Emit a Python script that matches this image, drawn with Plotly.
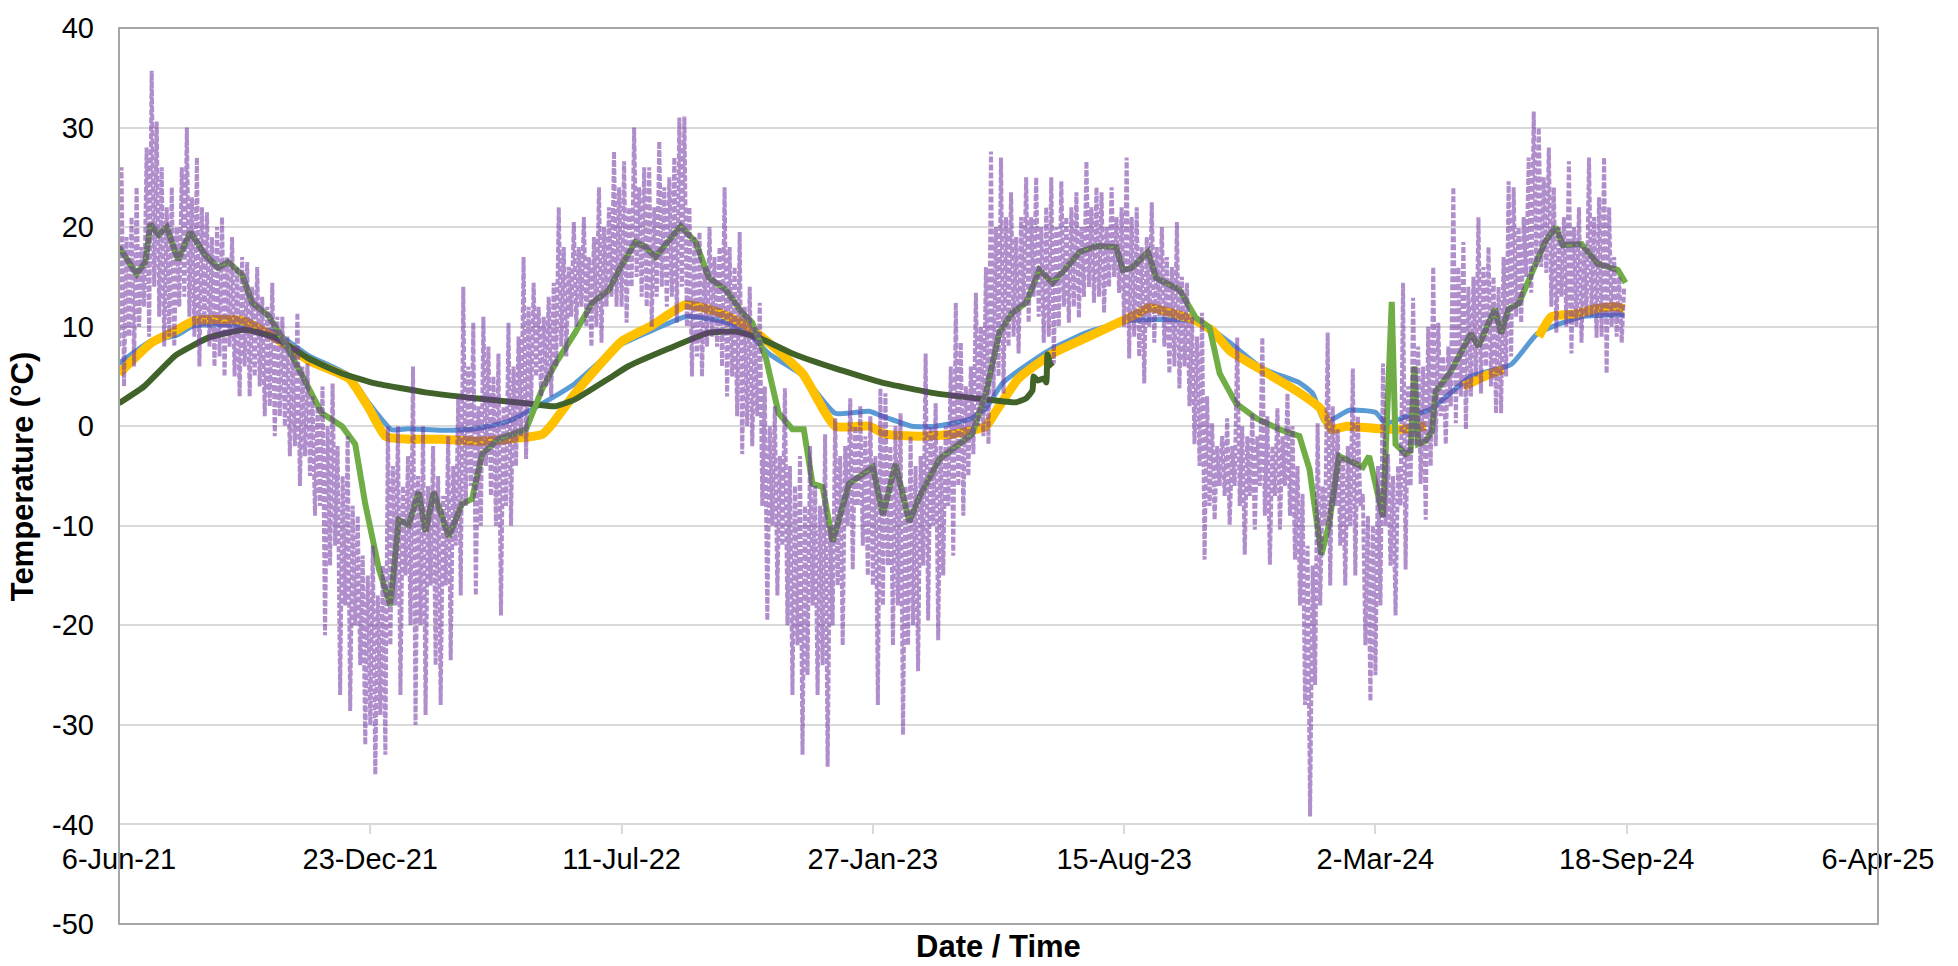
import datetime as dt
import plotly.graph_objects as go

START = dt.datetime(2021, 6, 6)

# ---------------- data ----------------
# hourly-style air temperature, one value every 2 days (alternating highs / lows)
air_step_days = 2
air_temp = [
    8, 26, 4, 19, 9, 21, 6, 24, 10, 18, 12, 28, 9, 35.7, 14, 30.6, 11, 26, 8, 22,
    9, 24, 8, 20, 12, 26, 13, 30, 11, 23, 9, 27, 6, 22, 10, 21.5, 8, 19, 6, 20,
    7, 21, 5, 17, 8, 19, 5, 16, 3, 17,
    6, 16.5, 3, 14, 5, 16, 4, 13, 1, 12, 2, 14.4, -1, 11, 1, 11, 0, 9, -3, 8,
    -2, 11.4, -6, 6, -3, 6.3, -5, 3, -9, 2, -8, 4, -21, 0, -14, 4.3, -12, -2, -27, -5,
    -18, -1, -28.6, -8, -20, -9, -24, -13, -32, -15,
    -30, -12, -35, -17, -29, -14, -33, 0, -22, -4, -18, 0, -27, -6, -15, -3, -20, 6, -30, -5,
    -20, 0, -29, -6, -16, -2, -24, -5, -28, -7, -16, -1, -23.5, -4, -12, 3, -17, 14, -8, 6,
    -6, 10.4, -17, 2, -10, 11, -4, 8, -7, 5,
    -10, 7.3, -19, 2, -8, 10.4, -10, 6, -4, 9, -1, 17, -3.3, 12, 2, 14.4, 5, 12, 3, 11,
    4, 13, 3, 14.4, 6, 22, 8, 18, 7, 16, 11, 20.5, 10, 18, 12, 21, 10, 17, 8, 19,
    10, 24, 8.4, 20, 12, 22, 13, 27.6, 12, 24,
    12, 26.6, 10.4, 22, 14, 30, 15, 24, 13, 26, 12, 26, 10, 22, 13, 28.6, 14, 24, 12, 25,
    13, 27, 10.4, 31, 14, 31.1, 10, 22, 5, 19, 7, 19.5, 5, 16, 8, 20, 9, 17, 8, 18,
    6, 24, 3, 18, 5, 16, 1, 19.5, -2.8, 12,
    0, 14, -2, 10, 1, 12.4, -8, 4, -19.5, 0, -10, 2, -17, -3, -12, 3.8, -20, -4, -27, -6,
    -22, -3, -33, -8, -25, -2, -18, -6, -27, -8, -24, -0.8, -34.2, -10, -20, 0.8, -16, -3, -22, -2,
    -10, 2.8, -14.4, 0, -8, 2, -12, -1, -15, 1,
    -16, -3, -28, 3.8, -18, 3.3, -14, -2, -22, 0, -18, 1.3, -31, -6, -22, -1, -20, -4, -24.6, -3,
    -14, 7.3, -19.5, 0, -10, 2.3, -21.5, -2, -15, 0, -8, 6, -13, 12.4, -6, 8.4, -9, 4, -5, 6,
    -2.8, 13.4, 0, 10, -1, 16, -1.8, 27.6, 3, 20,
    5, 27, 3.3, 21, 8, 23.5, 9, 19, 7.3, 21, 12, 25, 10.4, 21, 13, 25, 11, 20, 8.4, 22,
    9, 25, 6.3, 20, 10, 24.6, 12, 21, 10.4, 22, 12, 23.5, 10.9, 20, 13, 26.6, 14, 22, 12.4, 24,
    13, 23.5, 11.4, 20, 14, 24, 15, 21, 13.4, 22,
    10, 27, 6.8, 21, 9, 22, 7, 18, 4.3, 19, 10, 22.5, 8.4, 18, 11, 20, 8, 17, 5.3, 16,
    6, 20.5, 3.8, 15, 6, 14.4, 2, 11, -1.8, 9, -4, 11.4, -13.4, 3, -8, 0.3, -9.4, -2, -6, -1,
    -7, 0.8, -9.9, -2, -6, 8.9, -8, 0, -12.9, -1,
    -7, 1.3, -10.4, -1, -6, 8.9, -9, 1, -13.9, -2, -7, 1.8, -10.4, -1, -6, 3.3, -9, 0, -13.4, -4,
    -18, -6.8, -28, -12, -39.2, -14, -26, 0.3, -18, -6, -10, 9.4, -16, 2, -8, -0.3, -12, -3, -16, -2,
    -10, 5.8, -15, 1, -8, -6.8, -22, -9, -27.6, -10,
    -25, -4, -18, 6.3, -10, -2.8, -14, -5, -19, -4, -8, 14.4, -14.4, 4, -6, 12.9, -2, 8, -5.8, 6,
    -9.4, 10, -4, 16, -2, 10.4, 1, 7, -1.8, 8, 2, 24, 0.3, 16, 3, 18.5, -0.3, 14, 3, 15,
    5, 21, 3.3, 16, 6, 18, 4, 15, 1.3, 14,
    1.3, 17, 5, 24.6, 7, 24, 11, 20, 10.4, 21, 15, 27, 13.4, 31.6, 16, 30, 16, 25, 15.4, 28,
    12, 24, 9.4, 20, 13, 21, 10, 26.6, 7.3, 20, 10, 22, 8.4, 18, 11, 27, 11, 21, 8.9, 23,
    9, 27, 5.3, 22, 10, 17, 9, 15, 8.4, 14,
]

# smoothed air temperature (days since 6-Jun-21)
green_days = [0, 7.6, 14, 21, 25, 31.5, 38, 47, 56.7, 68.6,
              79, 87, 98, 106, 119, 132, 148, 161.5, 177.5, 188,
              196, 207, 216, 222.6, 230.6, 238.5, 244, 250.5, 262.5, 273,
              281, 289, 302, 324, 337, 347.5, 363, 376.6, 390, 398,
              411, 419, 427, 447, 459, 469.5, 483, 496, 504, 515,
              525, 536, 545, 552, 560, 568, 581, 600, 608, 618,
              629, 637, 653, 663.5, 679, 690, 700.6, 711, 722, 732.5,
              743, 754, 764.6, 778, 793.6, 799, 806, 819, 825.5, 844,
              857, 868, 876, 889, 905, 923.6, 939.5, 947.5, 957, 963,
              971, 990, 995, 1006, 1013, 1016, 1024, 1028, 1031, 1034,
              1040, 1045, 1048, 1060, 1076, 1082, 1095, 1100, 1106, 1114,
              1124, 1135, 1143.7, 1149, 1164, 1177, 1193, 1199]
green_vals = [18.0, 16.5, 15.3, 16.5, 20.3, 19.2, 20.0, 16.7, 19.5, 17.2,
              15.9, 16.5, 15.2, 12.4, 11.1, 8.4, 4.6, 1.3, 0, -1.8,
              -7.8, -14.4, -18.0, -9.4, -9.9, -6.6, -10.6, -6.6, -11.1, -7.8,
              -7.3, -2.8, -1.3, -0.3, 3.8, 6.3, 9.4, 12.4, 13.7, 15.7,
              18.5, 18.0, 17.0, 20.1, 18.5, 14.9, 13.7, 11.4, 10.4, 6.8,
              1.3, -0.3, -0.3, -5.8, -6.1, -11.6, -5.8, -4.1, -8.9, -3.8,
              -9.6, -7.1, -3.3, -2.3, -0.8, 3.3, 9.4, 11.4, 12.4, 15.7,
              14.4, 15.9, 17.5, 18.1, 18.0, 15.7, 15.9, 17.5, 14.9, 13.7,
              10.9, 9.9, 5.3, 2.3, 0.8, -0.3, -1.0, -4.3, -12.9, -9.9,
              -3.0, -4.1, -3.0, -9.1, 12.5, -1.8, -2.8, -2.5, 6.0, -1.8,
              -1.5, -0.5, 3.5, 5.5, 9.3, 8.0, 11.8, 9.3, 11.8, 12.3,
              15.3, 18.5, 20.0, 18.2, 18.3, 16.3, 15.7, 14.4]

# deep ground temperature
deep_days = [0, 20, 44.8, 71.3, 100, 124.4, 151, 177.5, 204, 243.9,
             283.7, 323.5, 347, 363, 390, 405, 437.6, 469.5, 490.8, 509,
             536, 570, 610, 650, 690, 714, 722, 727, 728, 731,
             736, 738, 739, 741, 743]
deep_vals = [2.3, 4.0, 7.1, 8.9, 9.7, 8.9, 6.8, 5.3, 4.3, 3.4,
             2.8, 2.3, 2.0, 2.7, 4.8, 6.0, 7.8, 9.4, 9.5, 8.9,
             7.3, 5.8, 4.3, 3.3, 2.7, 2.4, 2.8, 3.6, 5.0, 4.6,
             4.8, 4.4, 7.2, 6.3, 6.0]

# shallow ground temperature, sensor A (blue)
blue_days = [0, 26, 45, 60, 98, 124, 151, 183, 199, 217,
             230, 257, 284, 310, 337, 363, 398, 424, 451, 478,
             499, 517, 544, 570, 597, 610, 631, 650, 677, 690,
             703, 730, 743, 770, 804, 857, 871, 884, 910, 939,
             950, 960, 979, 1000, 1008, 1023, 1044, 1076, 1108, 1129,
             1164, 1198]
blue_vals = [6.3, 8.6, 9.1, 10.1, 10.1, 9.4, 7.1, 5.1, 2.3, -0.35,
             -0.25, -0.4, -0.25, 0.5, 2.3, 4.3, 8.1, 9.6, 11.0, 10.6,
             9.6, 7.3, 5.1, 1.3, 1.5, 0.9, 0, 0, 0.7, 1.8,
             4.3, 6.8, 7.8, 9.4, 10.6, 10.6, 9.6, 8.4, 5.8, 4.4,
             3.3, 0.4, 1.6, 1.4, 0.3, 0.9, 1.7, 5.0, 6.2, 9.3,
             11.0, 11.2]

# shallow ground temperature, sensor B (yellow) - None marks missing data
yellow_days = [0, 26, 45, 60, 98, 124, 151, 183, 199, 212,
               230, 257, 284, 310, 337, 345, 363, 400, 424, 451,
               478, 499, 517, 544, 570, 597, 610, 636, 663, 690,
               698, 716, 743, 770, 812, 820, 857, 871, 884, 910,
               939, 956, 965, 977, 1003, 1022, 1040, 1055, 1070, 1080,
               1090, 1102, 1116, 1130, 1140, 1160, 1175, 1190, 1198]
yellow_vals = [5.3, 8.4, 9.6, 10.6, 10.6, 8.9, 6.6, 4.8, 1.8, -1.0,
               -1.3, -1.3, -1.5, -1.3, -0.8, 0.25, 3.3, 8.5, 10.1, 12.2,
               11.4, 10.1, 8.4, 5.3, 0, 0, -0.8, -1.0, -0.8, 0,
               1.5, 4.8, 7.3, 8.9, 11.4, 11.9, 10.6, 9.5, 7.6, 5.6,
               3.4, 1.8, -0.3, 0, -0.25, -0.3, 0, None, 4.0, 4.6,
               5.2, 5.7, None, 9.0, 11.0, 11.3, 11.8, 12.0, 11.8]

tick_dates = ["2021-06-06", "2021-12-23", "2022-07-11", "2023-01-27",
              "2023-08-15", "2024-03-02", "2024-09-18", "2025-04-06"]
tick_labels = ["6-Jun-21", "23-Dec-21", "11-Jul-22", "27-Jan-23",
               "15-Aug-23", "2-Mar-24", "18-Sep-24", "6-Apr-25"]
y_ticks = [-50, -40, -30, -20, -10, 0, 10, 20, 30, 40]
y_tick_labels = ["-50", "-40", "-30", "-20", "-10", "0", "10", "20", "30", "40"]


def to_dates(days):
    return [START + dt.timedelta(days=d) for d in days]


air_dates = to_dates([i * air_step_days for i in range(len(air_temp))])

FONT = "Liberation Sans, Arial, sans-serif"

fig = go.Figure()
fig.add_trace(go.Scatter(x=to_dates(blue_days), y=blue_vals, mode="lines",
                         line=dict(color="#5B9BD5", width=5, shape="spline", smoothing=0.5),
                         showlegend=False))
fig.add_trace(go.Scatter(x=to_dates(yellow_days), y=yellow_vals, mode="lines",
                         line=dict(color="#FFC000", width=9, shape="spline", smoothing=0.5),
                         connectgaps=False, showlegend=False))
fig.add_trace(go.Scatter(x=to_dates(deep_days), y=deep_vals, mode="lines",
                         line=dict(color="#41632A", width=6, shape="spline", smoothing=0.4),
                         showlegend=False))
fig.add_trace(go.Scatter(x=to_dates(green_days), y=green_vals, mode="lines",
                         line=dict(color="#70AD47", width=6),
                         showlegend=False))
fig.add_trace(go.Scatter(x=air_dates, y=air_temp, mode="lines",
                         line=dict(color="rgba(112,48,160,0.55)", width=4, dash="6px,2px"),
                         showlegend=False))

fig.update_layout(
    width=1958, height=966,
    margin=dict(l=119, r=80, t=18, b=42),
    plot_bgcolor="white", paper_bgcolor="white",
    font=dict(family=FONT, size=29, color="#000000"),
    xaxis=dict(
        type="date",
        range=[tick_dates[0], tick_dates[-1]],
        tickvals=tick_dates, ticktext=tick_labels,
        anchor="free", position=1 / 9,
        showgrid=False, zeroline=False,
        showline=True, linecolor="#D9D9D9", linewidth=2,
        ticks="outside", ticklen=9, tickwidth=2, tickcolor="#D9D9D9",
        tickfont=dict(family=FONT, size=29, color="#000000"),
    ),
    yaxis=dict(
        range=[-50, 40], tickvals=y_ticks, ticktext=y_tick_labels,
        showgrid=True, gridcolor="#D9D9D9", gridwidth=2,
        zeroline=False, showline=False, ticks="",
        ticklabelstandoff=24,
        tickfont=dict(family=FONT, size=29, color="#000000"),
    ),
    shapes=[dict(type="rect", xref="paper", yref="paper", x0=0, x1=1, y0=0, y1=1,
                 line=dict(color="#A6A6A6", width=2), layer="above")],
    annotations=[
        dict(text="<b>Temperature (°C)</b>", xref="paper", yref="paper",
             x=-0.055, y=0.5, xanchor="center", yanchor="middle", textangle=-90,
             showarrow=False, font=dict(family=FONT, size=31, color="#000000")),
        dict(text="<b>Date / Time</b>", xref="paper", yref="paper",
             x=0.5, y=-0.0254, xanchor="center", yanchor="middle",
             showarrow=False, font=dict(family=FONT, size=31, color="#000000")),
    ],
)

fig.write_html("out.html", config={"displayModeBar": False},
               post_script="document.body.style.margin='0';")
